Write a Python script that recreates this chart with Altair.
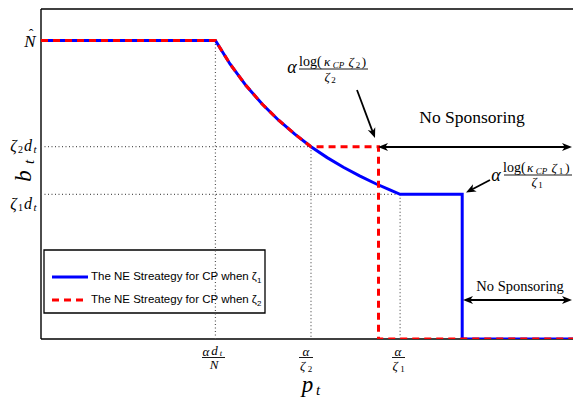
import math
import altair as alt
import pandas as pd

# ---------------- data ----------------
# key prices (x) : alpha*d_t/N, alpha/zeta2, alpha/zeta1
x_keys = [3.23, 5.0, 6.65]
# key sponsoring levels (y): N_hat, zeta2*d_t, zeta1*d_t
y_keys = [9.02, 5.81, 4.37]

# decreasing part of the NE strategy
curve_p = [3.23, 3.5, 3.8, 4.1, 4.4, 4.7, 5.0, 5.3, 5.6, 5.9, 6.2, 6.45, 6.65]
curve_b = [9.02, 8.31, 7.65, 7.09, 6.61, 6.19, 5.81, 5.48, 5.19, 4.93, 4.69, 4.51, 4.37]

# zeta1 strategy (blue)
blue_p = [0.0] + curve_p + [7.8, 7.8, 10.0]
blue_b = [9.02] + curve_b + [4.37, 0.0, 0.0]
# zeta2 strategy (red dashed)
red_p = [0.0] + curve_p[:7] + [6.25, 6.25, 10.0]
red_b = [9.02] + curve_b[:7] + [5.81, 0.0, 0.0]

legend_labels = ["The NE Streategy for CP when \u03b6", "The NE Streategy for CP when \u03b6"]
legend_subs = ["1", "2"]

# ---------------- geometry helpers ----------------
W, H = 532, 331
X0, Y0 = 41, 339          # page pixel of data origin
PXU, PYU = 54.0, 33.1     # pixels per data unit
XMAX = W / PXU
RIGHT = X0 + W            # right edge of plot in page pixels


def dx(px):
    return (px - X0) / PXU


def dy(py):
    return (Y0 - py) / PYU


xs = alt.Scale(domain=[0, XMAX], nice=False, zero=False)
ys = alt.Scale(domain=[0, 10], nice=False, zero=False)


def X(f):
    return alt.X(f, type="quantitative", scale=xs, axis=None)


def Y(f):
    return alt.Y(f, type="quantitative", scale=ys, axis=None)


def X2(f):
    return alt.X2(f)


def Y2(f):
    return alt.Y2(f)


SERIF = "Liberation Serif"
SANS = "Liberation Sans"

layers = []

# ---------------- frame ----------------
frame = pd.DataFrame({
    "x": [0, 0, 0], "x2": [0, XMAX, XMAX],
    "y": [0, 9.97, 0], "y2": [9.97, 9.97, 0],
})
layers.append(alt.Chart(frame).mark_rule(color="black", strokeWidth=1.4).encode(
    x=X("x"), x2=X2("x2"), y=Y("y"), y2=Y2("y2")))

# ---------------- legend box ----------------
leg_box = pd.DataFrame({"x": [dx(44)], "x2": [dx(265)], "y": [dy(250)], "y2": [dy(313)]})
layers.append(alt.Chart(leg_box).mark_rect(fill="white", stroke="black", strokeWidth=1.3).encode(
    x=X("x"), x2=X2("x2"), y=Y("y"), y2=Y2("y2")))
leg_lines = pd.DataFrame({"x": [dx(52)], "x2": [dx(88)], "y": [dy(277)], "y2": [dy(277)]})
layers.append(alt.Chart(leg_lines).mark_rule(color="#0000ff", strokeWidth=3).encode(
    x=X("x"), x2=X2("x2"), y=Y("y"), y2=Y2("y2")))
leg_lines2 = pd.DataFrame({"x": [dx(52)], "x2": [dx(88)], "y": [dy(300)], "y2": [dy(300)]})
layers.append(alt.Chart(leg_lines2).mark_rule(color="#ff0000", strokeWidth=3, strokeDash=[7, 5]).encode(
    x=X("x"), x2=X2("x2"), y=Y("y"), y2=Y2("y2")))

# ---------------- dotted guides ----------------
guides = pd.DataFrame({
    "x": [0, 0, x_keys[0], x_keys[1], x_keys[2]],
    "x2": [x_keys[1], x_keys[2], x_keys[0], x_keys[1], x_keys[2]],
    "y": [y_keys[1], y_keys[2], y_keys[0], y_keys[1], y_keys[2]],
    "y2": [y_keys[1], y_keys[2], 0, 0, 0],
})
layers.append(alt.Chart(guides).mark_rule(color="#555555", strokeWidth=1.2, strokeDash=[1, 2.5]).encode(
    x=X("x"), x2=X2("x2"), y=Y("y"), y2=Y2("y2")))

# ---------------- strategy lines ----------------
blue = pd.DataFrame({"p": blue_p, "b": blue_b, "o": list(range(len(blue_p)))})
red = pd.DataFrame({"p": red_p, "b": red_b, "o": list(range(len(red_p)))})
layers.append(alt.Chart(blue).mark_line(color="#0000ff", strokeWidth=3, strokeCap="butt", clip=True).encode(
    x=X("p"), y=Y("b"), order="o:Q"))
layers.append(alt.Chart(red).mark_line(color="#ff0000", strokeWidth=3, strokeCap="butt",
                                       strokeDash=[7, 5], clip=True).encode(
    x=X("p"), y=Y("b"), order="o:Q"))

# ---------------- arrows ----------------
R = 5.0  # arrowhead radius for size 100
arrows = [
    # (start px, start py, tip px, tip py, head at start?)
    (357, 90, 375, 138, False),
    (378, 147, RIGHT - 1, 147, True),
    (490, 180, 466, 192.5, False),
    (463, 300, RIGHT - 1, 300, True),
]
shafts, heads = [], []
for sx, sy, tx, ty, both in arrows:
    L = math.hypot(tx - sx, ty - sy)
    ux, uy = (tx - sx) / L, (ty - sy) / L
    ex, ey = tx - R * ux, ty - R * uy
    bx, by = (sx + R * ux, sy + R * uy) if both else (sx, sy)
    shafts.append({"x": dx(bx), "y": dy(by), "x2": dx(ex), "y2": dy(ey)})
    ang = math.degrees(math.atan2(ux, -uy)) % 360
    heads.append({"x": dx(ex), "y": dy(ey), "a": ang})
    if both:
        heads.append({"x": dx(bx), "y": dy(by), "a": (ang + 180) % 360})
layers.append(alt.Chart(pd.DataFrame(shafts)).mark_rule(color="black", strokeWidth=1.8).encode(
    x=X("x"), x2=X2("x2"), y=Y("y"), y2=Y2("y2")))
layers.append(alt.Chart(pd.DataFrame(heads)).mark_point(
    shape="M0,-1L0.8,1L0,0.45L-0.8,1Z", filled=True, color="black", opacity=1, size=100).encode(
    x=X("x"), y=Y("y"), angle=alt.Angle("a:Q", scale=None)))

# ---------------- fraction bars ----------------
bars = pd.DataFrame([
    {"x": dx(202), "x2": dx(225), "y": dy(357.5), "y2": dy(357.5)},
    {"x": dx(299), "x2": dx(313), "y": dy(357.5), "y2": dy(357.5)},
    {"x": dx(392), "x2": dx(405), "y": dy(357.5), "y2": dy(357.5)},
    {"x": dx(299), "x2": dx(368), "y": dy(69), "y2": dy(69)},
    {"x": dx(504), "x2": dx(572), "y": dy(175), "y2": dy(175)},
])
layers.append(alt.Chart(bars).mark_rule(color="black", strokeWidth=0.9).encode(
    x=X("x"), x2=X2("x2"), y=Y("y"), y2=Y2("y2")))

# ---------------- text pieces ----------------
T = []


def t(px, py, text, size, style="italic", align="center", font=SERIF, angle=0):
    T.append({"x": dx(px), "y": dy(py), "text": text, "size": size,
              "style": style, "align": align, "font": font, "angle": angle})


# y tick labels
t(30, 42, "N", 17)
t(31, 35, "\u02c6", 14, "normal")
for yy, sub in [(146, "2"), (204, "1")]:
    t(13.5, yy, "\u03b6", 16)
    t(20.5, yy + 4, sub, 10, "normal")
    t(28, yy, "d", 16)
    t(35, yy + 4, "t", 11)
# y title
t(24, 176, "b", 23, angle=270)
t(29, 162, "t", 15, angle=270)

# x tick labels
t(206, 351.5, "\u03b1", 13)
t(214.5, 350.5, "d", 13)
t(221, 353, "t", 8.5)
t(214, 365, "N", 13)
t(306, 351.5, "\u03b1", 13)
t(302.5, 365.5, "\u03b6", 13)
t(310, 368.5, "2", 9, "normal")
t(398, 351.5, "\u03b1", 13)
t(395, 365.5, "\u03b6", 13)
t(402.5, 368.5, "1", 9, "normal")
# x title
t(307.5, 385, "p", 23)
t(318, 390, "t", 15)

# annotation zeta2
t(292, 68, "\u03b1", 18)
t(299, 62, "log(", 14, "normal", "left")
t(327, 62, "\u03ba", 13)
t(338.5, 65, "CP", 9)
t(351, 62, "\u03b6", 13)
t(358, 65, "2", 9, "normal")
t(364, 62, ")", 13, "normal")
t(327, 77, "\u03b6", 13)
t(333.5, 80, "2", 9, "normal")

# annotation zeta1
t(496, 176, "\u03b1", 18)
t(503, 168, "log(", 14, "normal", "left")
t(530, 168, "\u03ba", 13)
t(541.5, 171, "CP", 9)
t(554, 168, "\u03b6", 13)
t(561, 171, "1", 9, "normal")
t(567.5, 168, ")", 13, "normal")
t(534, 182, "\u03b6", 13)
t(540.5, 185, "1", 9, "normal")

# No Sponsoring labels
t(472, 118, "No Sponsoring", 17.5, "normal")
t(520, 287, "No Sponsoring", 14.5, "normal")

# legend labels
for (yy, lab, sub) in zip([277, 300], legend_labels, legend_subs):
    t(91, yy, lab, 11.5, "normal", "left", SANS)
    t(257, yy + 4, sub, 8, "normal", "left", SANS)

tdf = pd.DataFrame(T)
for (style, align, font, angle), sub in tdf.groupby(["style", "align", "font", "angle"]):
    layers.append(alt.Chart(sub).mark_text(
        font=font, fontStyle=style, align=align, baseline="middle", angle=float(angle), color="black").encode(
        x=X("x"), y=Y("y"), text="text:N", size=alt.Size("size:Q", scale=None)))

chart = alt.layer(*layers).properties(
    width=W, height=H, autosize="none",
    padding={"left": 33, "top": 0, "right": 0, "bottom": 58},
).configure_view(stroke=None)

chart.save("out.html", embed_options={"renderer": "svg", "actions": False})
